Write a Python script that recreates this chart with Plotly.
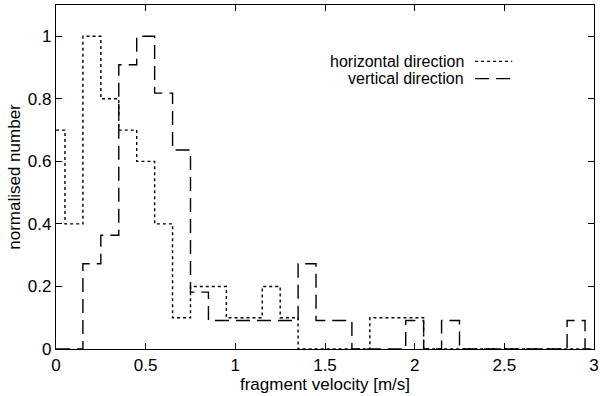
import plotly.graph_objects as go


# ==========================================
# DATA  (histogram counts per 0.1 m/s bin)
# ==========================================

bin_centres = [
    0.0, 0.1, 0.2, 0.3, 0.4, 0.5, 0.6, 0.7, 0.8, 0.9,
    1.0, 1.1, 1.2, 1.3, 1.4, 1.5, 1.6, 1.7, 1.8, 1.9,
    2.0, 2.1, 2.2, 2.3, 2.4, 2.5, 2.6, 2.7, 2.8, 2.9, 3.0
]

horizontal_counts = [
    7, 4, 10, 8, 7, 6, 4, 1, 2, 2,
    1, 1, 2, 1, 0, 0, 0, 0, 1, 1,
    1, 0, 0, 0, 0, 0, 0, 0, 0, 0, 0
]

vertical_counts = [
    0, 0, 3, 4, 10, 11, 9, 7, 2, 1,
    1, 1, 1, 1, 3, 1, 1, 0, 0, 0,
    1, 0, 1, 0, 0, 0, 0, 0, 0, 1, 0
]

x_ticks = [0, 0.5, 1, 1.5, 2, 2.5, 3]
x_tick_labels = ["0", "0.5", "1", "1.5", "2", "2.5", "3"]
y_ticks = [0, 0.2, 0.4, 0.6, 0.8, 1]
y_tick_labels = ["0", "0.2", "0.4", "0.6", "0.8", "1"]

series_names = ["horizontal direction", "vertical direction"]


# ==========================================
# NORMALISE
# ==========================================

def normalise(counts):
    top = max(counts)
    return [c / top for c in counts]


horizontal_norm = normalise(horizontal_counts)
vertical_norm = normalise(vertical_counts)

FONT = "Liberation Sans, Arial, sans-serif"
FSIZE = 17
DOT = "3px,3px"
DASH = "14px,7px"


# ==========================================
# FIGURE
# ==========================================

fig = go.Figure()

fig.add_trace(
    go.Scatter(
        x=bin_centres,
        y=horizontal_norm,
        mode="lines",
        line=dict(color="black", width=1.4, dash=DOT, shape="hvh"),
        name=series_names[0],
        showlegend=False
    )
)

fig.add_trace(
    go.Scatter(
        x=bin_centres,
        y=vertical_norm,
        mode="lines",
        line=dict(color="black", width=1.4, dash=DASH, shape="hvh"),
        name=series_names[1],
        showlegend=False
    )
)

axis_common = dict(
    showgrid=False,
    zeroline=False,
    showline=True,
    linecolor="black",
    linewidth=1.4,
    mirror="allticks",
    ticks="inside",
    ticklen=6,
    tickcolor="black",
    automargin=False,
    ticklabeloverflow="allow",
    tickfont=dict(family=FONT, size=FSIZE, color="black"),
)

fig.update_xaxes(
    range=[0, 3],
    tickvals=x_ticks,
    ticktext=x_tick_labels,
    title=dict(text="fragment velocity [m/s]", standoff=0,
               font=dict(family=FONT, size=FSIZE, color="black")),
    **axis_common
)

fig.update_yaxes(
    range=[0, 1.1],
    tickvals=y_ticks,
    ticktext=y_tick_labels,
    title=dict(text="normalised number", standoff=2,
               font=dict(family=FONT, size=FSIZE, color="black")),
    **axis_common
)

# legend: text right-aligned, line sample on the right
legend_rows = [(0.836, DOT), (0.786, DASH)]
for name, (ypos, dash) in zip(series_names, legend_rows):
    fig.add_annotation(
        xref="paper", yref="paper",
        x=0.762, y=ypos,
        xanchor="right", yanchor="middle",
        text=name, showarrow=False,
        font=dict(family=FONT, size=16, color="black")
    )
    fig.add_shape(
        type="line", xref="paper", yref="paper",
        x0=0.779, x1=0.848, y0=ypos, y1=ypos,
        line=dict(color="black", width=1.4, dash=dash)
    )

fig.update_layout(
    width=600,
    height=396,
    margin=dict(l=56, r=6, t=5, b=47),
    plot_bgcolor="white",
    paper_bgcolor="white",
    font=dict(family=FONT, size=FSIZE, color="black"),
)

fig.write_html(
    "out.html",
    config={"displayModeBar": False},
    post_script="document.body.style.margin='0';"
)
